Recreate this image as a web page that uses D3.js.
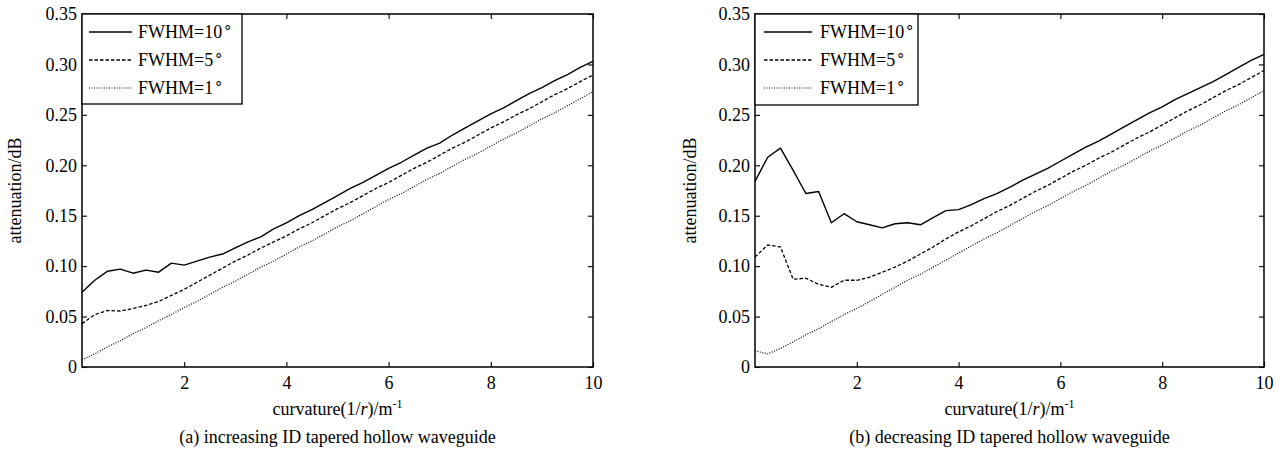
<!DOCTYPE html>
<html>
<head>
<meta charset="utf-8">
<script src="https://cdn.jsdelivr.net/npm/d3@7"></script>
<style>
  html, body { margin: 0; padding: 0; background: #fff; }
  svg { display: block; font-family: "Liberation Serif", "Times New Roman", serif; }
</style>
</head>
<body>
<svg id="chart" width="1285" height="450"></svg>
<script>
// ---- data ----
const curvature = [0, 0.25, 0.5, 0.75, 1, 1.25, 1.5, 1.75, 2, 2.25, 2.5, 2.75, 3, 3.25, 3.5, 3.75, 4,
  4.25, 4.5, 4.75, 5, 5.25, 5.5, 5.75, 6, 6.25, 6.5, 6.75, 7, 7.25, 7.5, 7.75, 8,
  8.25, 8.5, 8.75, 9, 9.25, 9.5, 9.75, 10];

// (a) increasing ID
const incFWHM10 = [0.074, 0.086, 0.095, 0.097, 0.093, 0.096, 0.094, 0.103, 0.101, 0.105, 0.109, 0.112, 0.118, 0.124, 0.129, 0.137, 0.143,
  0.150, 0.156, 0.163, 0.170, 0.177, 0.183, 0.190, 0.197, 0.203, 0.210, 0.217, 0.222, 0.230, 0.237, 0.244, 0.251,
  0.257, 0.264, 0.271, 0.277, 0.284, 0.290, 0.297, 0.303];
const incFWHM5 = [0.043, 0.052, 0.056, 0.0555, 0.058, 0.061, 0.065, 0.071, 0.077, 0.084, 0.091, 0.098, 0.105, 0.111, 0.118, 0.124, 0.130,
  0.137, 0.143, 0.150, 0.157, 0.163, 0.170, 0.177, 0.183, 0.190, 0.197, 0.203, 0.210, 0.217, 0.223, 0.230, 0.237,
  0.243, 0.250, 0.256, 0.263, 0.270, 0.276, 0.283, 0.2895];
const incFWHM1 = [0.007, 0.013, 0.020, 0.026, 0.033, 0.039, 0.046, 0.052, 0.059, 0.065, 0.072, 0.079, 0.085, 0.092, 0.099, 0.105, 0.112,
  0.119, 0.125, 0.132, 0.139, 0.145, 0.152, 0.159, 0.166, 0.172, 0.179, 0.186, 0.192, 0.199, 0.206, 0.212, 0.219,
  0.226, 0.232, 0.239, 0.246, 0.252, 0.259, 0.266, 0.273];

// (b) decreasing ID
const decFWHM10 = [0.184, 0.208, 0.217, 0.195, 0.172, 0.174, 0.143, 0.152, 0.144, 0.141, 0.138, 0.142, 0.143, 0.141, 0.148, 0.155, 0.156,
  0.161, 0.167, 0.172, 0.178, 0.185, 0.191, 0.197, 0.204, 0.211, 0.218, 0.224, 0.231, 0.238, 0.245, 0.252, 0.258,
  0.265, 0.271, 0.277, 0.283, 0.290, 0.297, 0.304, 0.310];
const decFWHM5 = [0.109, 0.121, 0.119, 0.087, 0.088, 0.082, 0.079, 0.086, 0.086, 0.089, 0.094, 0.099, 0.105, 0.112, 0.119, 0.127, 0.134,
  0.140, 0.147, 0.154, 0.160, 0.167, 0.174, 0.180, 0.187, 0.194, 0.200, 0.207, 0.213, 0.220, 0.227, 0.233, 0.240,
  0.247, 0.254, 0.260, 0.267, 0.274, 0.280, 0.287, 0.294];
const decFWHM1 = [0.016, 0.013, 0.0185, 0.025, 0.032, 0.038, 0.045, 0.052, 0.058, 0.065, 0.072, 0.079, 0.086, 0.092, 0.099, 0.106, 0.113,
  0.120, 0.127, 0.133, 0.140, 0.147, 0.154, 0.160, 0.167, 0.174, 0.180, 0.187, 0.194, 0.200, 0.207, 0.214, 0.220,
  0.227, 0.234, 0.240, 0.247, 0.254, 0.260, 0.267, 0.274];

const legendLabels = ["FWHM=10", "FWHM=5", "FWHM=1"];
const xTickValues = [2, 4, 6, 8, 10];
const yTickValues = [0, 0.05, 0.10, 0.15, 0.20, 0.25, 0.30, 0.35];
const yTickLabels = ["0", "0.05", "0.10", "0.15", "0.20", "0.25", "0.30", "0.35"];
const captions = ["(a) increasing ID tapered hollow waveguide", "(b) decreasing ID tapered hollow waveguide"];

// ---- layout ----
const svg = d3.select("#chart");
const FS = 18;
const FONT = "'Liberation Serif', 'Times New Roman', serif";
const styles = [
  { dash: null, width: 1.4 },
  { dash: "3.5,2", width: 1.3 },
  { dash: "1,1.5", width: 1.2 }
];

const panels = [
  { left: 82, right: 593, series: [incFWHM10, incFWHM5, incFWHM1], caption: captions[0],
    ylabelX: 15, legend: { w: 160, h: 90, lineX0: 7, lineX1: 50, textX: 56 } },
  { left: 755, right: 1264, series: [decFWHM10, decFWHM5, decFWHM1], caption: captions[1],
    ylabelX: 690, legend: { w: 163, h: 91, lineX0: 9, lineX1: 57, textX: 65 } }
];
const plotTop = 14, plotBottom = 367;

panels.forEach(p => {
  const x = d3.scaleLinear().domain([0, 10]).range([p.left, p.right]);
  const y = d3.scaleLinear().domain([0, 0.35]).range([plotBottom, plotTop]);
  const g = svg.append("g").attr("font-family", FONT);

  // curves
  const line = d3.line().x(d => x(d[0])).y(d => y(d[1]));
  p.series.forEach((s, i) => {
    const pts = curvature.map((c, k) => [c, s[k]]);
    g.append("path").attr("d", line(pts))
      .attr("fill", "none").attr("stroke", "#000")
      .attr("stroke-width", styles[i].width)
      .attr("stroke-dasharray", styles[i].dash)
      .attr("stroke-linejoin", "round");
  });

  // axes (inward ticks)
  const fmtY = d => yTickLabels[yTickValues.indexOf(d)];
  const axL = g.append("g").attr("transform", `translate(${p.left},0)`)
    .call(d3.axisLeft(y).tickValues(yTickValues).tickFormat(fmtY).tickSizeInner(-5).tickSizeOuter(0).tickPadding(5));
  const axR = g.append("g").attr("transform", `translate(${p.right},0)`)
    .call(d3.axisRight(y).tickValues(yTickValues).tickFormat("").tickSizeInner(-5).tickSizeOuter(0));
  const axB = g.append("g").attr("transform", `translate(0,${plotBottom})`)
    .call(d3.axisBottom(x).tickValues(xTickValues).tickFormat(d3.format("d")).tickSizeInner(-5).tickSizeOuter(0).tickPadding(9));
  const axT = g.append("g").attr("transform", `translate(0,${plotTop})`)
    .call(d3.axisTop(x).tickValues(xTickValues).tickFormat("").tickSizeInner(-5).tickSizeOuter(0));
  [axL, axR, axB, axT].forEach(a => {
    a.attr("font-family", FONT).attr("font-size", FS);
    a.select(".domain").remove();
    a.selectAll("line").attr("stroke", "#000").attr("stroke-width", 1.1);
    a.selectAll("text").attr("fill", "#000");
  });

  // box
  g.append("rect").attr("x", p.left).attr("y", plotTop)
    .attr("width", p.right - p.left).attr("height", plotBottom - plotTop)
    .attr("fill", "none").attr("stroke", "#000").attr("stroke-width", 1.5);

  // legend
  const L = p.legend;
  const lg = g.append("g").attr("transform", `translate(${p.left},${plotTop})`);
  lg.append("rect").attr("width", L.w).attr("height", L.h)
    .attr("fill", "#fff").attr("stroke", "#000").attr("stroke-width", 1.3);
  legendLabels.forEach((lab, i) => {
    const yy = 18 + i * 28;
    lg.append("line").attr("x1", L.lineX0).attr("x2", L.lineX1).attr("y1", yy).attr("y2", yy)
      .attr("stroke", "#000").attr("stroke-width", styles[i].width)
      .attr("stroke-dasharray", styles[i].dash);
    const t = lg.append("text").attr("x", L.textX).attr("y", yy + 6)
      .attr("font-size", FS).attr("fill", "#000");
    t.append("tspan").text(lab);
    t.append("tspan").attr("font-size", 15).attr("dy", -6).attr("dx", 1).text("\u2218");
  });

  // y label
  g.append("text")
    .attr("transform", `translate(${p.ylabelX},${(plotTop + plotBottom) / 2}) rotate(-90)`)
    .attr("text-anchor", "middle").attr("dominant-baseline", "central")
    .attr("font-size", FS).attr("fill", "#000").text("attenuation/dB");

  // x label
  const cx = (p.left + p.right) / 2;
  const xl = g.append("text").attr("x", cx).attr("y", 415).attr("text-anchor", "middle")
    .attr("font-size", FS).attr("fill", "#000");
  xl.append("tspan").text("curvature(1/");
  xl.append("tspan").attr("font-style", "italic").text("r");
  xl.append("tspan").text(")/m");
  xl.append("tspan").attr("font-size", 12).attr("dy", -7).text("-1");

  // caption
  g.append("text").attr("x", cx).attr("y", 443).attr("text-anchor", "middle")
    .attr("font-size", FS).attr("fill", "#000").text(p.caption);
});
</script>
</body>
</html>
